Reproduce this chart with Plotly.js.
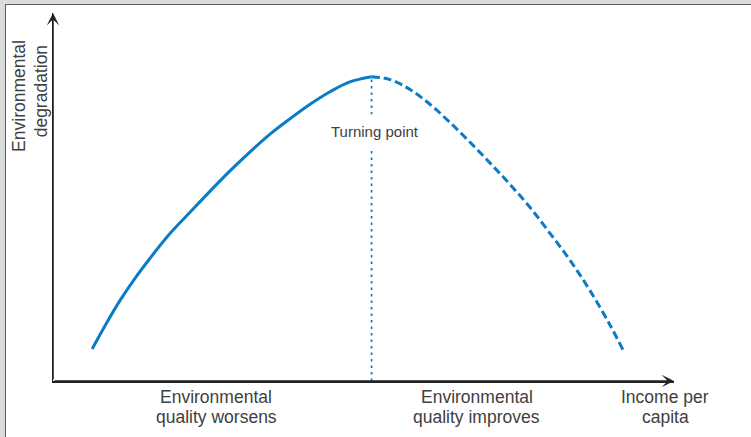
<!DOCTYPE html>
<html><head><meta charset="utf-8">
<script src="https://cdn.plot.ly/plotly-3.0.1.min.js"></script>
<style>
html,body{margin:0;padding:0;background:#dcdcdc;width:751px;height:437px;overflow:hidden;}
#frame{position:absolute;left:5px;top:4px;width:746px;height:433px;border-left:1px solid #5a5a5a;border-top:1px solid #5a5a5a;background:#fff;box-sizing:border-box;}
#chart{width:745px;height:432px;}
</style></head>
<body><div id="frame"><div id="chart"></div></div>
<script>
// Environmental Kuznets curve (schematic), income per capita vs environmental degradation
const incomeRising = [6.3, 8.4, 10.8, 13.2, 15.6, 18.8, 22.1, 25.3, 28.5, 31.7, 34.9, 38.2, 41.4, 44.6, 47.8, 51.3];
const degradationRising = [8.7, 15.1, 21.9, 27.9, 33.3, 40.0, 45.9, 51.6, 57.1, 62.2, 67.0, 71.3, 75.2, 78.6, 81.3, 82.7];
const incomeFalling = [51.3, 54.3, 57.5, 60.7, 63.9, 67.2, 70.4, 73.6, 76.8, 80.0, 83.3, 86.5, 89.7, 91.8];
const degradationFalling = [82.7, 81.9, 79.2, 75.2, 70.3, 64.8, 59.2, 53.4, 47.2, 40.2, 32.7, 24.5, 15.2, 8.4];
const xAxisLabels = ["Income per", "capita"];
const yAxisLabels = ["Environmental", "degradation"];
const phaseLabelsLeft = ["Environmental", "quality worsens"];
const phaseLabelsRight = ["Environmental", "quality improves"];
const turningLabel = "Turning point";

const turnX = incomeRising[incomeRising.length - 1];
const turnY = degradationRising[degradationRising.length - 1];

const blue = '#0a7bc5';
const ink = '#222222';
const textCol = '#404040';
const fontFam = 'Liberation Sans, Arial, sans-serif';

const traces = [
  {x: incomeRising, y: degradationRising, mode: 'lines', type: 'scatter',
   line: {color: blue, width: 3, shape: 'spline', smoothing: 1}, hoverinfo: 'skip'},
  {x: incomeFalling, y: degradationFalling, mode: 'lines', type: 'scatter',
   line: {color: blue, width: 3, shape: 'spline', smoothing: 1, dash: '8px,4px'}, hoverinfo: 'skip'},
  {x: [turnX, turnX], y: [0, turnY], mode: 'lines', type: 'scatter',
   line: {color: blue, width: 1.7, dash: '2.5px,4px'}, hoverinfo: 'skip'}
];

function label(text, x, y, size, extra) {
  return Object.assign({text: text, x: x, y: y, xref: 'x', yref: 'paper', showarrow: false,
    xanchor: 'center', yanchor: 'middle', borderpad: 0,
    font: {family: fontFam, size: size, color: textCol}}, extra || {});
}

const annotations = [
  // axis arrows
  {x: 100, y: 0, ax: 0, ay: 0, xref: 'x', yref: 'y', axref: 'x', ayref: 'y', text: '',
   showarrow: true, arrowhead: 3, arrowsize: 1.3, arrowwidth: 1.6, arrowcolor: ink, standoff: 0},
  {x: 0, y: 100, ax: 0, ay: 0, xref: 'x', yref: 'y', axref: 'x', ayref: 'y', text: '',
   showarrow: true, arrowhead: 3, arrowsize: 1.3, arrowwidth: 1.6, arrowcolor: ink, standoff: 0},
  label(turningLabel, turnX + 0.5, 0.679, 15, {bgcolor: '#ffffff', borderpad: 8}),
  label(phaseLabelsLeft[0], 26.3, -0.044, 17.5),
  label(phaseLabelsLeft[1], 26.3, -0.097, 17.5),
  label(phaseLabelsRight[0], 68.2, -0.044, 17.5),
  label(phaseLabelsRight[1], 68.2, -0.097, 17.5),
  label(xAxisLabels[0], 98.6, -0.044, 17.5),
  label(xAxisLabels[1], 98.6, -0.097, 17.5),
  label(yAxisLabels[0], -0.054, 0.776, 17.5, {xref: 'paper', textangle: -90}),
  label(yAxisLabels[1], -0.020, 0.786, 17.5, {xref: 'paper', textangle: -90})
];

const layout = {
  width: 745, height: 432,
  margin: {l: 47, r: 77, t: 8, b: 56, pad: 0},
  paper_bgcolor: '#ffffff', plot_bgcolor: '#ffffff',
  showlegend: false,
  xaxis: {range: [0, 100], showgrid: false, zeroline: false, showticklabels: false, ticks: '',
          showline: true, linecolor: ink, linewidth: 2, fixedrange: true},
  yaxis: {range: [0, 100], showgrid: false, zeroline: false, showticklabels: false, ticks: '',
          showline: true, linecolor: ink, linewidth: 1.5, fixedrange: true},
  annotations: annotations
};

Plotly.newPlot('chart', traces, layout, {displayModeBar: false, staticPlot: true});
</script>
</body></html>
